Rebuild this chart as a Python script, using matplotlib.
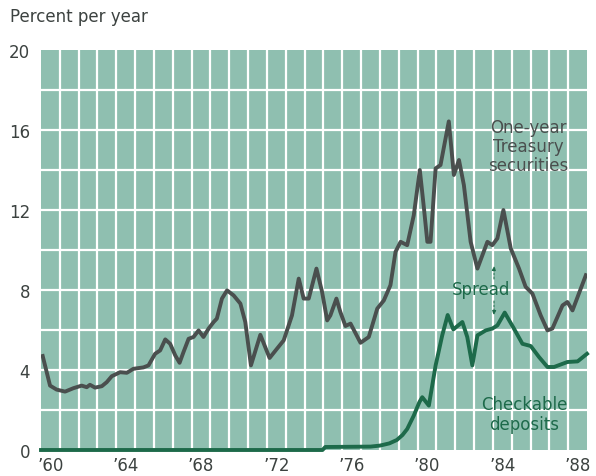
import matplotlib
matplotlib.use("Agg")
import matplotlib.pyplot as plt
import numpy as np

plt.rcParams['font.family'] = ['DejaVu Sans']

# one-year Treasury securities, percent per year
tsy_years = [1960.09, 1960.48, 1960.83, 1961.28, 1961.72, 1962.16, 1962.43, 1962.6, 1962.87,
             1963.23, 1963.49, 1963.76, 1964.2, 1964.56, 1964.91, 1965.44, 1965.71, 1966.06,
             1966.33, 1966.6, 1966.86, 1967.13, 1967.36, 1967.57, 1967.84, 1968.1, 1968.37,
             1968.63, 1968.9, 1969.17, 1969.34, 1969.61, 1969.88, 1970.23, 1970.59, 1970.85,
             1971.15, 1971.65, 1972.14, 1972.53, 1972.89, 1973.33, 1973.69, 1973.95, 1974.22,
             1974.63, 1974.93, 1975.2, 1975.37, 1975.69, 1975.9, 1976.17, 1976.44, 1976.97,
             1977.41, 1977.86, 1978.21, 1978.56, 1978.83, 1979.1, 1979.45, 1979.8, 1980.12,
             1980.34, 1980.52, 1980.69, 1980.96, 1981.22, 1981.66, 1981.93, 1982.2, 1982.46,
             1982.82, 1983.18, 1983.71, 1983.97, 1984.24, 1984.56, 1984.95, 1985.39, 1985.74,
             1986.1, 1986.54, 1986.9, 1987.16, 1987.7, 1987.96, 1988.23, 1988.94]
tsy_rate = [4.7, 3.22, 3.02, 2.92, 3.09, 3.22, 3.14, 3.26, 3.12,
            3.19, 3.39, 3.69, 3.89, 3.86, 4.06, 4.13, 4.23, 4.81,
            4.98, 5.53, 5.31, 4.73, 4.36, 4.9, 5.56, 5.65, 5.98,
            5.65, 6.07, 6.4, 6.57, 7.57, 7.98, 7.73, 7.32, 6.4,
            4.23, 5.76, 4.6, 5.06, 5.48, 6.73, 8.57, 7.57, 7.57,
            9.07, 7.9, 6.48, 6.73, 7.57, 6.9, 6.2, 6.32, 5.36,
            5.65, 7.07, 7.48, 8.24, 9.91, 10.41, 10.24, 11.74, 14.0,
            12.08, 10.41, 10.41, 14.08, 14.25, 16.43, 13.75, 14.5, 13.25,
            10.41, 9.07, 10.41, 10.24, 10.58, 12.0, 10.08, 9.07, 8.16,
            7.82, 6.73, 5.98, 6.07, 7.23, 7.4, 6.98, 8.74]

# checkable deposits
chk_years = [1960.0, 1974.95, 1975.1, 1977.5, 1978.0, 1978.5, 1978.9, 1979.2, 1979.45,
             1979.8, 1980.1, 1980.25, 1980.6, 1980.96, 1981.31, 1981.6, 1981.9, 1982.38,
             1982.64, 1982.91, 1983.18, 1983.62, 1983.97, 1984.24, 1984.63, 1985.12,
             1985.57, 1986.01, 1986.45, 1986.9, 1987.25, 1987.96, 1988.5, 1989.0]
chk_rate = [0, 0, 0.15, 0.17, 0.22, 0.33, 0.5, 0.75, 1.05,
            1.72, 2.4, 2.64, 2.22, 4.23, 5.73, 6.75, 6.03, 6.4,
            5.65, 4.23, 5.73, 5.98, 6.07, 6.23, 6.87, 6.07,
            5.31, 5.2, 4.65, 4.15, 4.15, 4.4, 4.43, 4.81]

tick_years = [1960, 1964, 1968, 1972, 1976, 1980, 1984, 1988]
tick_labels = ["\u201960", "\u201964", "\u201968", "\u201972", "\u201976", "\u201980", "\u201984", "\u201988"]

bg = "#8fbfb0"
gray = "#4a4f4e"
green = "#1d6a4a"
txt = "#3c4240"

fig = plt.figure(figsize=(5.96, 4.77), dpi=100)
ax = fig.add_axes([41/596, 26/477, 546/596, 400/477])
ax.set_facecolor(bg)
ax.set_xlim(1960, 1989)
ax.set_ylim(0, 20)
for s in ax.spines.values():
    s.set_visible(False)

for yr in range(1961, 1989):
    ax.axvline(yr, color="white", lw=1.6, zorder=1)
for v in range(2, 20, 2):
    ax.axhline(v, color="white", lw=1.6, zorder=1)

ax.plot(tsy_years, tsy_rate, color=gray, lw=2.8, zorder=3, solid_joinstyle="round")
ax.plot(chk_years, chk_rate, color=green, lw=2.8, zorder=3, clip_on=False,
        solid_joinstyle="round")

ax.set_yticks([0, 4, 8, 12, 16, 20])
ax.set_yticklabels(["0", "4", "8", "12", "16", "20"])
ax.set_xticks([y + 0.5 for y in tick_years])
ax.set_xticklabels(tick_labels)
ax.tick_params(length=0, labelsize=12, labelcolor=txt)
ax.tick_params(axis="y", pad=8)
ax.tick_params(axis="x", pad=4)

ax.text(1985.9, 15.2, "One-year\nTreasury\nsecurities", ha="center", va="center",
        fontsize=12, color=gray, linespacing=1.1, zorder=4)
ax.text(1985.66, 1.8, "Checkable\ndeposits", ha="center", va="center",
        fontsize=12, color=green, linespacing=1.1, zorder=4)
ax.text(1983.35, 8.05, "Spread", ha="center", va="center", fontsize=12,
        color=green, zorder=4)
ax.annotate("", xy=(1984.06, 9.2), xytext=(1984.06, 8.55),
            arrowprops=dict(arrowstyle="-|>", color=green, lw=0.8, ls=(0, (2, 1.5)),
                            mutation_scale=6, shrinkA=0, shrinkB=0), zorder=4)
ax.annotate("", xy=(1984.06, 6.75), xytext=(1984.06, 7.45),
            arrowprops=dict(arrowstyle="-|>", color=green, lw=0.8, ls=(0, (2, 1.5)),
                            mutation_scale=6, shrinkA=0, shrinkB=0), zorder=4)

fig.text(10/596, 1 - 17/477, "Percent per year", ha="left", va="center",
         fontsize=12, color=txt)

fig.savefig("out.png", dpi=100)
